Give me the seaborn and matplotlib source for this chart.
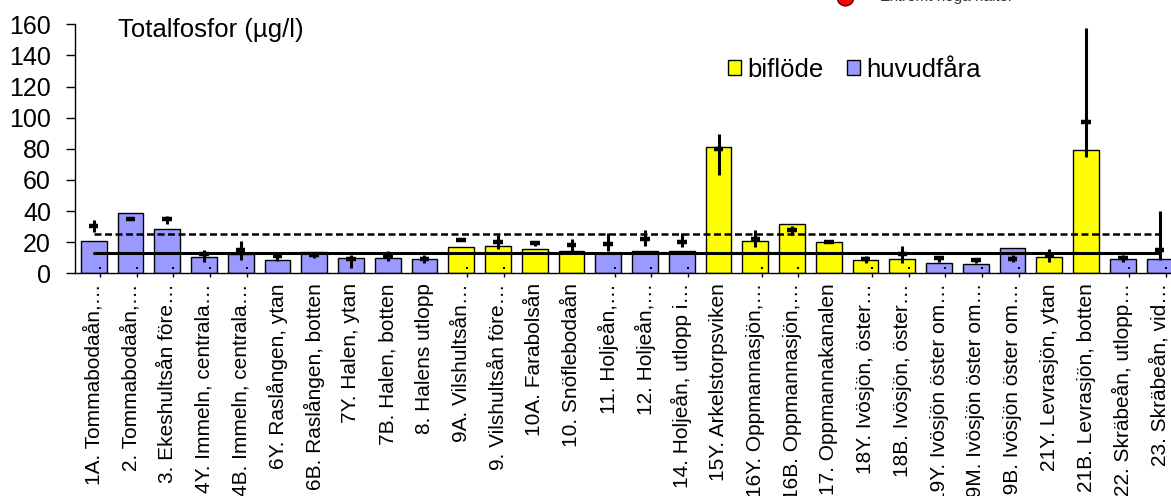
import matplotlib
matplotlib.use("Agg")
import matplotlib.pyplot as plt
from matplotlib.patches import Patch
from matplotlib.lines import Line2D
import seaborn as sns
import pandas as pd

# Totalfosfor per station
stations = [
    "1A. Tommabodaån,…", "2. Tommabodaån,…", "3. Ekeshultsån före…",
    "4Y. Immeln, centrala…", "4B. Immeln, centrala…", "6Y. Raslången, ytan",
    "6B. Raslången, botten", "7Y. Halen, ytan", "7B. Halen, botten",
    "8. Halens utlopp", "9A. Vilshultsån…", "9. Vilshultsån före…",
    "10A. Farabolsån", "10. Snöflebodaån", "11. Holjeån,…", "12. Holjeån,…",
    "14. Holjeån, utlopp i…", "15Y. Arkelstorpsviken", "16Y. Oppmannasjön,…",
    "16B. Oppmannasjön,…", "17. Oppmannakanalen", "18Y. Ivösjön, öster…",
    "18B. Ivösjön, öster…", "19Y. Ivösjön öster om…", "19M. Ivösjön öster om…",
    "19B. Ivösjön öster om…", "21Y. Levrasjön, ytan", "21B. Levrasjön, botten",
    "22. Skräbeån, utlopp…", "23. Skräbeån, vid…",
]
typ = (["huvudfåra"] * 10 + ["biflöde"] * 4 + ["huvudfåra"] * 3 + ["biflöde"] * 6
       + ["huvudfåra"] * 3 + ["biflöde"] * 2 + ["huvudfåra"] * 2)
values = [20.5, 39, 28.5, 10.3, 12.3, 8.8, 13.8, 10, 9.6, 9.3,
          16.7, 17.7, 15.4, 14.5, 12.9, 14.1, 14.1, 81, 20.6, 31.7,
          19.9, 8.4, 9.0, 6.6, 5.8, 16.3, 10.3, 79.2, 9.4, 9.0]
# historical mean with min-max range
hist_mid = [30.4, 34.7, 34.7, 12.5, 15, 11.1, 11.8, 9.5, 11.1, 9.4,
            21.6, 20.1, 19.7, 18.0, 18.6, 22, 20.3, 80, 21.8, 27.8,
            19.9, 9.0, 12.2, 9.6, 8.5, 9.4, 11.8, 97.4, 10.0, 15]
hist_lo = [26.7, 34.0, 31.7, 7.5, 8.5, 8.1, 9.6, 3.2, 7.9, 6.6,
           21.6, 15.8, 17.8, 14.1, 14.5, 17.7, 16.7, 63.2, 16.7, 24.6,
           19.9, 6.4, 6.4, 7.5, 6.4, 7.5, 7.5, 74.5, 7.5, 8.5]
hist_hi = [34.3, 35.4, 36.8, 15.2, 21, 13.9, 13.2, 11.8, 14.4, 12.0,
           21.6, 24.3, 21, 22.3, 25.7, 27.8, 25.7, 89.5, 27.8, 30.6,
           19.9, 11.1, 17.5, 11.1, 8.5, 11.8, 15.4, 157.8, 11.8, 40.2]
dot_flag = [1, 1, 1, 1, 1, 0, 0, 0, 0, 0, 1, 1, 0, 0, 1, 1, 1, 0, 1, 1,
            0, 1, 1, 1, 1, 1, 0, 0, 1, 1]
solid_level = 13
dashed_level = 25

colors = {"biflöde": "#FFFF00", "huvudfåra": "#9999FF"}

sns.set_style("white")
plt.rcParams["font.family"] = ["Liberation Sans", "DejaVu Sans"]
plt.rcParams["text.color"] = "black"
plt.rcParams["xtick.color"] = "black"
plt.rcParams["ytick.color"] = "black"

df = pd.DataFrame({"station": stations, "value": values, "typ": typ})

fig = plt.figure(figsize=(11.71, 4.96), dpi=100)
ax = fig.add_axes([75.3 / 1171, 1 - 273.3 / 496, (1178 - 75.3) / 1171, (273.3 - 24.3) / 496])

sns.barplot(data=df, x="station", y="value", hue="typ", hue_order=["biflöde", "huvudfåra"],
            palette=colors, saturation=1, dodge=False, width=0.7, edgecolor="black",
            linewidth=1, legend=False, ax=ax)

n = len(stations)
xs = list(range(n))
ax.vlines(xs, hist_lo, hist_hi, color="black", lw=2.2, zorder=4)
ax.hlines(hist_mid, [x - 0.13 for x in xs], [x + 0.13 for x in xs], color="black", lw=3.2, zorder=4)

ax.plot([0, n - 1], [solid_level] * 2, color="black", lw=2.2, zorder=3)
ax.plot([0, n - 1], [dashed_level] * 2, color="black", lw=1.8, ls=(0, (2.8, 1.4)), zorder=3)

dot_x = [x + 0.17 for x, f in zip(xs, dot_flag) if f]
ax.scatter(dot_x, [3.6] * len(dot_x), s=3, marker="s", color="black", zorder=4, linewidths=0)
ax.scatter(dot_x, [-1.3] * len(dot_x), s=6, marker="|", color="black", linewidths=1,
           clip_on=False, zorder=4)

ax.set_xlim(-0.5, n - 0.5)
ax.set_ylim(0, 160)
ax.set_yticks(range(0, 161, 20))
ax.set_xlabel("")
ax.set_ylabel("")
ax.set_xticks(xs)
ax.set_xticklabels(stations, rotation=90, fontsize=15)
ax.tick_params(axis="x", length=0, pad=7, labelcolor="black")
ax.tick_params(axis="y", direction="out", length=6.5, width=1, labelsize=18, pad=11,
               left=True, labelcolor="black")
for side in ["top", "right"]:
    ax.spines[side].set_visible(False)
for side in ["left", "bottom"]:
    ax.spines[side].set_color("black")
    ax.spines[side].set_linewidth(1)

fig.text(118 / 1171, 1 - 30 / 496, "Totalfosfor (µg/l)", fontsize=18.5, va="center", ha="left")

handles = [Patch(facecolor=colors[k], edgecolor="black", lw=1) for k in ["biflöde", "huvudfåra"]]
fig.legend(handles, ["biflöde", "huvudfåra"], loc="center left",
           bbox_to_anchor=(728 / 1171, 1 - 70 / 496), ncol=2, frameon=False,
           fontsize=18.5, borderpad=0, borderaxespad=0, handlelength=0.52,
           handleheight=0.52, handletextpad=0.23, columnspacing=0.9, labelcolor="black")

# partially visible legend entry at the top edge
fig.add_artist(Line2D([845 / 1171], [1 + 3 / 496], marker="o", markersize=12,
                      markerfacecolor="red", markeredgecolor="#550000",
                      transform=fig.transFigure, clip_on=False))
fig.text(880 / 1171, 1 + 3 / 496, "Extremt höga halter", fontsize=11, color="#333333",
         va="center", ha="left")

fig.savefig("out.png", dpi=100)
